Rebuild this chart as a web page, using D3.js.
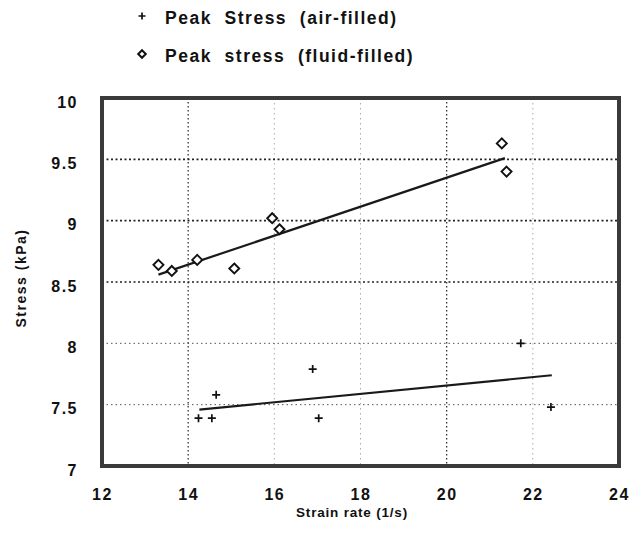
<!DOCTYPE html>
<html>
<head>
<meta charset="utf-8">
<script src="https://cdn.jsdelivr.net/npm/d3@7/dist/d3.min.js"></script>
<style>
  html, body { margin: 0; padding: 0; background: #fff; }
  svg { display: block; }
  text { font-family: "Liberation Sans", Arial, sans-serif; fill: #111; }
</style>
</head>
<body>
<svg id="chart" width="631" height="536"></svg>
<script>
// Peak stress (air-filled): strain rate [1/s], stress [kPa]
const airRate   = [14.24, 14.55, 14.65, 16.89, 17.03, 21.72, 22.42];
const airStress = [7.39, 7.39, 7.58, 7.79, 7.39, 8.00, 7.48];
// Peak stress (fluid-filled)
const fluidRate   = [13.31, 13.62, 14.21, 15.07, 15.95, 16.12, 21.28, 21.39];
const fluidStress = [8.64, 8.59, 8.68, 8.61, 9.02, 8.93, 9.63, 9.40];
// Linear fit end points
const airFitRate = [14.26, 22.44];
const airFitStress = [7.46, 7.74];
const fluidFitRate = [13.31, 21.35];
const fluidFitStress = [8.56, 9.51];

const xTicks = [12, 14, 16, 18, 20, 22, 24];
const yTicks = [7, 7.5, 8, 8.5, 9, 9.5, 10];
const yTickLabels = ["7", "7.5", "8", "8.5", "9", "9.5", "10"];
const majorX = [14, 20];
const minorX = [16, 18, 22];
const majorY = [8.5, 9, 9.5];
const minorY = [7.5, 8];

const legendLabels = ["Peak  Stress  (air-filled)", "Peak  stress  (fluid-filled)"];

const svg = d3.select("#chart");
const plotL = 102, plotR = 619, plotT = 98, plotB = 466;

const x = d3.scaleLinear().domain([12, 24]).range([plotL, plotR]);
const y = d3.scaleLinear().domain([7, 10]).range([plotB, plotT]);

// gridlines
const grid = svg.append("g");
grid.selectAll(".gx-major").data(majorX).join("line")
  .attr("x1", d => x(d)).attr("x2", d => x(d)).attr("y1", plotT).attr("y2", plotB)
  .attr("stroke", "#333").attr("stroke-width", 1.3).attr("stroke-dasharray", "1.5,2.5");
grid.selectAll(".gx-minor").data(minorX).join("line")
  .attr("x1", d => x(d)).attr("x2", d => x(d)).attr("y1", plotT).attr("y2", plotB)
  .attr("stroke", "#aaa").attr("stroke-width", 1).attr("stroke-dasharray", "1.5,3.5");
grid.selectAll(".gy-major").data(majorY).join("line")
  .attr("y1", d => y(d)).attr("y2", d => y(d)).attr("x1", plotL).attr("x2", plotR)
  .attr("stroke", "#222").attr("stroke-width", 1.6).attr("stroke-dasharray", "2,2.5");
grid.selectAll(".gy-minor").data(minorY).join("line")
  .attr("y1", d => y(d)).attr("y2", d => y(d)).attr("x1", plotL).attr("x2", plotR)
  .attr("stroke", "#555").attr("stroke-width", 1).attr("stroke-dasharray", "1.5,3");

// fitted lines
const line = d3.line().x(d => x(d[0])).y(d => y(d[1]));
svg.append("path").datum(d3.zip(fluidFitRate, fluidFitStress)).attr("d", line)
  .attr("fill", "none").attr("stroke", "#1a1a1a").attr("stroke-width", 2.2);
svg.append("path").datum(d3.zip(airFitRate, airFitStress)).attr("d", line)
  .attr("fill", "none").attr("stroke", "#1a1a1a").attr("stroke-width", 2.2);

// markers
const diamond = (cx, cy, r) => `M${cx},${cy - r}L${cx + r},${cy}L${cx},${cy + r}L${cx - r},${cy}Z`;
const plus = (cx, cy, r) => `M${cx - r},${cy}H${cx + r}M${cx},${cy - r}V${cy + r}`;

svg.append("g").selectAll("path").data(d3.zip(fluidRate, fluidStress)).join("path")
  .attr("d", d => diamond(x(d[0]), y(d[1]), 5))
  .attr("fill", "#fff").attr("stroke", "#111").attr("stroke-width", 1.9);
svg.append("g").selectAll("path").data(d3.zip(airRate, airStress)).join("path")
  .attr("d", d => plus(x(d[0]), y(d[1]), 4))
  .attr("fill", "none").attr("stroke", "#111").attr("stroke-width", 1.7);

// frame
svg.append("rect").attr("x", plotL).attr("y", plotT)
  .attr("width", plotR - plotL).attr("height", plotB - plotT)
  .attr("fill", "none").attr("stroke", "#3a3a3a").attr("stroke-width", 4);

// axes tick labels
const tickFont = sel => sel.attr("font-size", 16).attr("font-weight", "bold")
  .attr("letter-spacing", 1.5)
  .style("font-family", "'Liberation Sans', Arial, sans-serif").attr("fill", "#111");

const xAxis = d3.axisBottom(x).tickValues(xTicks).tickSize(0).tickPadding(23).tickFormat(d3.format("d"));
const gx = svg.append("g").attr("transform", `translate(0,${plotB})`).call(xAxis);
gx.select(".domain").remove();
gx.selectAll("text").call(tickFont);

const yAxis = d3.axisLeft(y).tickValues(yTicks).tickSize(0).tickPadding(24)
  .tickFormat((d, i) => yTickLabels[i]);
const gy = svg.append("g").attr("transform", `translate(${plotL},4)`).call(yAxis);
gy.select(".domain").remove();
gy.selectAll("text").call(tickFont);

// axis titles
svg.append("text").attr("x", 352).attr("y", 517).attr("text-anchor", "middle")
  .attr("font-size", 13.5).attr("font-weight", "bold").attr("letter-spacing", 0.8)
  .text("Strain rate (1/s)");
svg.append("text").attr("transform", "translate(26,278) rotate(-90)").attr("text-anchor", "middle")
  .attr("font-size", 14).attr("font-weight", "bold").attr("letter-spacing", 1.5)
  .text("Stress (kPa)");

// legend
const legend = svg.append("g");
legend.append("path").attr("d", plus(142, 16, 3.5))
  .attr("stroke", "#111").attr("stroke-width", 1.7).attr("fill", "none");
legend.append("path").attr("d", diamond(142, 54, 3.8))
  .attr("stroke", "#111").attr("stroke-width", 2).attr("fill", "#fff");
legend.selectAll("text").data(legendLabels).join("text")
  .attr("x", 165).attr("y", (d, i) => 24 + i * 38)
  .attr("font-size", 17.5).attr("font-weight", "bold")
  .attr("letter-spacing", 1.5).style("white-space", "pre")
  .text(d => d);
</script>
</body>
</html>
